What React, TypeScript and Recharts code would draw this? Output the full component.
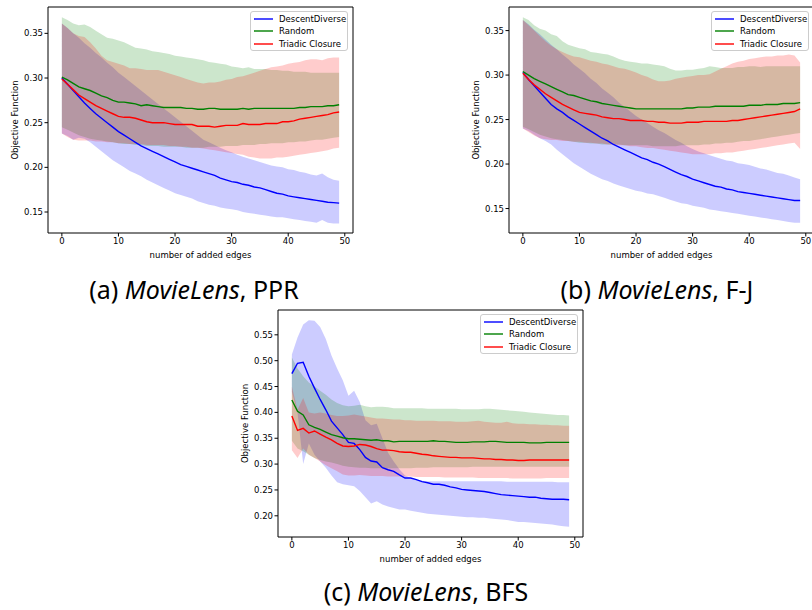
import {
  ComposedChart,
  XAxis,
  YAxis,
  Area,
  Line,
  Legend,
  Label,
  ReferenceArea,
} from "recharts";

const EDGES = [
  0, 1, 2, 3, 4, 5, 6, 7, 8, 9, 10, 11, 12, 13, 14, 15, 16, 17, 18, 19, 20, 21, 22, 23, 24,
  25, 26, 27, 28, 29, 30, 31, 32, 33, 34, 35, 36, 37, 38, 39, 40, 41, 42, 43, 44, 45, 46, 47,
  48, 49,
];
const X_TICKS = [0, 10, 20, 30, 40, 50];
const Y_TICKS_TOP = [0.15, 0.2, 0.25, 0.3, 0.35];
const Y_TICKS_BFS = [0.2, 0.25, 0.3, 0.35, 0.4, 0.45, 0.5, 0.55];
const SERIES_NAMES = ["DescentDiverse", "Random", "Triadic Closure"];

// (a) MovieLens, PPR
const A_DD_MEAN = [.300,.293,.286,.279,.272,.266,.260,.255,.250,.245,.240,.236,.232,.228,.224,.221,.218,.215,.212,.209,.206,.203,.201,.199,.197,.195,.193,.191,.188,.186,.184,.183,.181,.180,.178,.177,.175,.173,.171,.170,.168,.167,.166,.165,.164,.163,.162,.161,.1605,.160];
const A_DD_HI = [.361,.356,.350,.345,.339,.334,.328,.323,.317,.312,.306,.301,.296,.291,.286,.281,.276,.271,.266,.261,.256,.251,.246,.241,.236,.231,.228,.225,.222,.219,.217,.214,.212,.210,.208,.206,.204,.202,.201,.200,.198,.197,.195,.194,.192,.191,.193,.189,.186,.185];
const A_DD_LO = [.238,.235,.231,.233,.232,.228,.223,.218,.213,.208,.204,.200,.196,.193,.190,.186,.183,.180,.177,.174,.171,.169,.167,.165,.162,.160,.158,.157,.155,.154,.153,.152,.150,.149,.148,.147,.146,.145,.144,.144,.143,.142,.141,.140,.139,.138,.141,.138,.137,.137];
const A_RND_MEAN = [.301,.298,.294,.290,.288,.286,.283,.280,.278,.275,.273,.273,.272,.271,.269,.270,.269,.268,.267,.267,.267,.267,.266,.266,.265,.265,.266,.266,.265,.265,.265,.265,.266,.265,.266,.266,.266,.266,.266,.266,.266,.266,.267,.267,.268,.268,.268,.269,.269,.270];
const A_RND_HI = [.368,.365,.361,.359,.360,.357,.353,.349,.345,.344,.342,.340,.337,.334,.333,.332,.330,.329,.328,.327,.325,.324,.323,.322,.321,.320,.318,.317,.316,.315,.313,.312,.311,.312,.310,.310,.310,.309,.309,.308,.308,.307,.307,.307,.306,.306,.306,.306,.306,.306];
const A_RND_LO = [.245,.242,.239,.236,.234,.232,.231,.230,.229,.228,.227,.226,.226,.225,.225,.224,.224,.224,.223,.223,.223,.223,.222,.222,.222,.222,.223,.223,.223,.224,.224,.224,.225,.225,.225,.226,.226,.227,.227,.227,.228,.228,.229,.229,.230,.231,.231,.232,.233,.234];
const A_TC_MEAN = [.299,.293,.287,.281,.277,.273,.269,.266,.263,.260,.257,.256,.256,.255,.253,.251,.250,.250,.250,.249,.248,.248,.248,.248,.246,.246,.246,.245,.246,.247,.247,.247,.249,.248,.248,.248,.249,.249,.249,.251,.251,.252,.254,.255,.256,.257,.258,.259,.261,.262];
const A_TC_HI = [.361,.356,.350,.347,.346,.340,.333,.325,.320,.318,.316,.314,.311,.311,.310,.309,.309,.309,.307,.305,.303,.301,.299,.297,.295,.294,.295,.295,.296,.298,.299,.301,.302,.304,.306,.308,.310,.312,.313,.314,.316,.317,.318,.320,.321,.321,.320,.322,.323,.323];
const A_TC_LO = [.238,.234,.231,.230,.230,.230,.229,.229,.228,.228,.227,.227,.226,.226,.226,.225,.225,.225,.225,.224,.224,.223,.223,.222,.222,.221,.220,.219,.218,.217,.216,.215,.214,.212,.211,.210,.210,.210,.211,.211,.212,.213,.214,.215,.216,.217,.218,.219,.221,.222];

// (b) MovieLens, F-J
const B_DD_MEAN = [.303,.295,.288,.281,.274,.267,.262,.258,.253,.249,.245,.241,.237,.233,.229,.226,.222,.219,.216,.213,.210,.207,.205,.202,.200,.197,.194,.191,.188,.186,.183,.181,.179,.177,.175,.174,.172,.171,.169,.168,.167,.166,.165,.164,.163,.162,.161,.160,.159,.159];
const B_DD_HI = [.362,.357,.351,.346,.340,.334,.329,.323,.318,.312,.307,.302,.296,.291,.285,.280,.275,.269,.264,.259,.254,.250,.246,.242,.238,.235,.231,.227,.224,.220,.217,.214,.212,.210,.208,.206,.204,.203,.201,.200,.199,.197,.195,.194,.192,.190,.189,.187,.185,.183];
const B_DD_LO = [.240,.237,.233,.229,.226,.222,.216,.211,.206,.201,.197,.193,.189,.186,.183,.181,.178,.176,.174,.172,.170,.169,.167,.166,.164,.162,.160,.158,.156,.155,.153,.152,.151,.149,.148,.147,.146,.145,.144,.143,.142,.141,.140,.139,.138,.137,.136,.135,.134,.134];
const B_RND_MEAN = [.304,.300,.296,.293,.290,.287,.284,.281,.278,.277,.275,.273,.271,.270,.268,.267,.266,.265,.264,.263,.262,.262,.262,.262,.262,.262,.262,.262,.262,.263,.263,.264,.264,.264,.265,.265,.265,.265,.265,.265,.266,.266,.266,.267,.267,.267,.268,.268,.268,.269];
const B_RND_HI = [.365,.362,.356,.352,.350,.346,.344,.338,.334,.332,.330,.329,.326,.325,.324,.323,.321,.318,.316,.315,.314,.313,.313,.312,.311,.310,.307,.305,.305,.306,.306,.307,.308,.310,.309,.308,.308,.308,.309,.309,.310,.310,.309,.310,.310,.310,.310,.310,.310,.310];
const B_RND_LO = [.242,.239,.236,.233,.231,.229,.228,.227,.226,.225,.224,.224,.223,.223,.222,.222,.222,.222,.221,.221,.221,.221,.221,.220,.220,.220,.220,.220,.221,.221,.221,.221,.222,.222,.223,.223,.224,.224,.225,.226,.226,.227,.228,.229,.230,.231,.232,.233,.234,.235];
const B_TC_MEAN = [.302,.295,.289,.284,.279,.275,.271,.267,.264,.261,.258,.257,.256,.255,.253,.252,.251,.251,.250,.249,.249,.249,.248,.248,.247,.247,.246,.246,.246,.247,.247,.247,.248,.248,.248,.248,.248,.249,.249,.250,.251,.252,.253,.254,.255,.256,.257,.258,.259,.262];
const B_TC_HI = [.362,.356,.350,.344,.338,.333,.329,.326,.323,.321,.320,.318,.316,.315,.313,.312,.310,.308,.307,.305,.303,.300,.298,.295,.293,.293,.294,.296,.297,.298,.299,.300,.300,.301,.304,.307,.310,.313,.315,.316,.318,.319,.320,.321,.321,.322,.322,.323,.322,.314];
const B_TC_LO = [.240,.236,.232,.229,.228,.227,.227,.226,.226,.225,.225,.224,.224,.223,.223,.222,.222,.221,.221,.220,.220,.219,.218,.218,.217,.216,.215,.214,.213,.212,.211,.211,.211,.211,.212,.212,.213,.213,.214,.215,.216,.217,.218,.219,.220,.221,.222,.223,.224,.217];

// (c) MovieLens, BFS
const C_DD_MEAN = [.475,.495,.497,.470,.447,.425,.405,.383,.370,.357,.342,.340,.328,.313,.306,.304,.293,.289,.286,.279,.273,.273,.270,.266,.264,.261,.261,.259,.256,.254,.251,.250,.249,.248,.247,.245,.243,.241,.240,.239,.238,.237,.236,.236,.234,.233,.232,.232,.232,.231];
const C_DD_HI = [.512,.545,.570,.578,.577,.565,.542,.510,.485,.462,.432,.442,.420,.385,.375,.378,.350,.322,.305,.290,.278,.273,.270,.268,.267,.267,.267,.267,.267,.267,.267,.267,.267,.267,.267,.267,.267,.267,.266,.266,.266,.266,.266,.266,.266,.266,.266,.265,.265,.265];
const C_DD_LO = [.440,.400,.300,.340,.318,.305,.293,.278,.265,.261,.259,.257,.248,.236,.224,.228,.222,.218,.215,.212,.212,.210,.208,.206,.204,.203,.202,.201,.200,.199,.198,.197,.197,.196,.196,.195,.194,.193,.192,.190,.188,.188,.187,.186,.185,.184,.183,.181,.180,.179];
const C_RND_MEAN = [.424,.402,.395,.376,.371,.367,.362,.357,.354,.351,.349,.349,.348,.347,.346,.347,.345,.345,.343,.344,.344,.344,.344,.344,.344,.345,.344,.344,.343,.342,.342,.342,.343,.343,.343,.344,.344,.343,.342,.342,.342,.342,.341,.341,.341,.342,.342,.342,.342,.342];
const C_RND_HI = [.506,.485,.470,.458,.450,.442,.434,.425,.418,.414,.412,.413,.415,.412,.410,.411,.411,.410,.408,.408,.408,.408,.408,.408,.407,.407,.407,.407,.407,.407,.406,.406,.406,.406,.407,.407,.406,.405,.404,.403,.402,.401,.400,.399,.398,.397,.396,.395,.395,.394];
const C_RND_LO = [.345,.330,.325,.318,.312,.308,.305,.303,.300,.297,.295,.294,.293,.293,.292,.292,.292,.292,.292,.292,.292,.292,.293,.293,.293,.294,.294,.294,.294,.294,.294,.294,.295,.295,.295,.295,.295,.295,.295,.295,.295,.295,.295,.295,.295,.295,.295,.295,.295,.295];
const C_TC_MEAN = [.393,.365,.369,.360,.364,.358,.352,.347,.340,.335,.334,.335,.338,.337,.334,.330,.327,.327,.326,.324,.323,.323,.321,.319,.318,.316,.315,.314,.313,.313,.312,.312,.312,.311,.310,.310,.309,.309,.308,.308,.307,.307,.308,.308,.308,.308,.308,.308,.308,.308];
const C_TC_HI = [.450,.405,.428,.400,.398,.400,.398,.395,.393,.393,.394,.396,.394,.392,.390,.388,.388,.387,.386,.386,.385,.385,.384,.384,.384,.384,.383,.383,.383,.382,.382,.382,.383,.384,.382,.381,.380,.380,.382,.379,.378,.378,.377,.377,.376,.376,.375,.375,.374,.374];
const C_TC_LO = [.327,.312,.330,.318,.312,.305,.298,.292,.286,.280,.278,.278,.279,.278,.277,.277,.277,.276,.276,.276,.276,.276,.275,.275,.275,.275,.275,.274,.274,.274,.274,.274,.274,.273,.273,.273,.273,.273,.273,.272,.272,.272,.272,.272,.272,.273,.273,.273,.273,.273];

const FONT = '"DejaVu Sans", sans-serif';
const X_DOMAIN: [number, number] = [-2.45, 51.45];
const COLORS = ["#0000ff", "#008000", "#ff0000"];

type Band = { mean: number[]; lo: number[]; hi: number[] };

function buildRows(series: Band[]) {
  return EDGES.map((x, i) => {
    const row: Record<string, number | number[]> = { x };
    series.forEach((s, k) => {
      row[`m${k}`] = s.mean[i];
      row[`b${k}`] = [s.lo[i], s.hi[i]];
    });
    return row;
  });
}

const DATA_A = buildRows([
  { mean: A_DD_MEAN, lo: A_DD_LO, hi: A_DD_HI },
  { mean: A_RND_MEAN, lo: A_RND_LO, hi: A_RND_HI },
  { mean: A_TC_MEAN, lo: A_TC_LO, hi: A_TC_HI },
]);
const DATA_B = buildRows([
  { mean: B_DD_MEAN, lo: B_DD_LO, hi: B_DD_HI },
  { mean: B_RND_MEAN, lo: B_RND_LO, hi: B_RND_HI },
  { mean: B_TC_MEAN, lo: B_TC_LO, hi: B_TC_HI },
]);
const DATA_C = buildRows([
  { mean: C_DD_MEAN, lo: C_DD_LO, hi: C_DD_HI },
  { mean: C_RND_MEAN, lo: C_RND_LO, hi: C_RND_HI },
  { mean: C_TC_MEAN, lo: C_TC_LO, hi: C_TC_HI },
]);

const renderLegend = (props: any) => {
  const items = (props.payload || []).filter((p: any) => p.type !== "none");
  return (
    <div
      style={{
        width: 98,
        height: 40,
        boxSizing: "border-box",
        border: "1px solid #cccccc",
        borderRadius: 3,
        background: "rgba(255,255,255,0.8)",
        fontFamily: FONT,
        fontSize: 8.5,
        color: "#000",
        paddingTop: 0.5,
      }}
    >
      {items.map((it: any) => (
        <div key={it.value} style={{ height: 12.5, display: "flex", alignItems: "center" }}>
          <svg width={25} height={6} style={{ marginLeft: 3, flex: "none" }}>
            <line x1={0} x2={19} y1={3} y2={3} stroke={it.color} strokeWidth={1.4} />
          </svg>
          <span style={{ whiteSpace: "nowrap" }}>{it.value}</span>
        </div>
      ))}
    </div>
  );
};

const xLabel = (props: any) => {
  const vb = props.viewBox;
  return (
    <text x={vb.x + vb.width / 2} y={vb.y + 25} textAnchor="middle" fontFamily={FONT} fontSize={8.5} fill="#000">
      number of added edges
    </text>
  );
};

const yLabel = (props: any) => {
  const vb = props.viewBox;
  const cx = 18;
  const cy = vb.y + vb.height / 2;
  return (
    <text x={cx} y={cy} transform={`rotate(-90, ${cx}, ${cy})`} textAnchor="middle" fontFamily={FONT} fontSize={8.5} fill="#000">
      Objective Function
    </text>
  );
};

function Panel({ data, yDomain, yTicks, height }: { data: any[]; yDomain: [number, number]; yTicks: number[]; height: number }) {
  const tick = { fill: "#000", fontSize: 8.5, fontFamily: FONT };
  return (
    <ComposedChart width={360} height={height} data={data} margin={{ top: 7, right: 7, bottom: 0, left: 0 }}>
      <XAxis
        dataKey="x"
        type="number"
        domain={X_DOMAIN}
        ticks={X_TICKS}
        allowDataOverflow
        interval={0}
        height={29}
        axisLine={false}
        stroke="#000"
        tickSize={3.5}
        tickMargin={1.5}
        tick={tick}
      >
        <Label content={xLabel} />
      </XAxis>
      <YAxis
        type="number"
        domain={yDomain}
        ticks={yTicks}
        allowDataOverflow
        interval={0}
        width={48}
        axisLine={false}
        stroke="#000"
        tickSize={3.5}
        tickMargin={1.5}
        tick={tick}
        tickFormatter={(v: number) => v.toFixed(2)}
      >
        <Label content={yLabel} />
      </YAxis>
      {[0, 1, 2].map((k) => (
        <Area
          key={`b${k}`}
          dataKey={`b${k}`}
          type="linear"
          stroke="none"
          fill={COLORS[k]}
          fillOpacity={0.2}
          legendType="none"
          isAnimationActive={false}
        />
      ))}
      {[0, 1, 2].map((k) => (
        <Line
          key={`m${k}`}
          dataKey={`m${k}`}
          name={SERIES_NAMES[k]}
          type="linear"
          stroke={COLORS[k]}
          strokeWidth={1.4}
          dot={false}
          activeDot={false}
          isAnimationActive={false}
        />
      ))}
      <ReferenceArea
        x1={X_DOMAIN[0]}
        x2={X_DOMAIN[1]}
        y1={yDomain[0]}
        y2={yDomain[1]}
        fill="none"
        fillOpacity={0}
        stroke="#000"
        strokeWidth={1}
        ifOverflow="visible"
      />
      <Legend
        layout="vertical"
        align="center"
        verticalAlign="middle"
        content={renderLegend}
        wrapperStyle={{ left: 250, top: 11, width: 98 }}
      />
    </ComposedChart>
  );
}

const captionStyle = {
  position: "absolute" as const,
  width: 300,
  textAlign: "center" as const,
  fontFamily: '"Noto Sans", sans-serif',
  fontSize: 25,
  lineHeight: "30px",
  color: "#000",
  whiteSpace: "nowrap" as const,
};

export default function App() {
  return (
    <div style={{ position: "absolute", left: 0, top: 0, width: 812, height: 610, overflow: "hidden", background: "#fff" }}>
      <div style={{ position: "absolute", left: 0, top: 0 }}>
        <Panel data={DATA_A} yDomain={[0.1265, 0.3795]} yTicks={Y_TICKS_TOP} height={262} />
      </div>
      <div style={{ position: "absolute", left: 461, top: 0 }}>
        <Panel data={DATA_B} yDomain={[0.1225, 0.3765]} yTicks={Y_TICKS_TOP} height={262} />
      </div>
      <div style={{ position: "absolute", left: 230, top: 303 }}>
        <Panel data={DATA_C} yDomain={[0.159, 0.598]} yTicks={Y_TICKS_BFS} height={263} />
      </div>
      <div style={{ ...captionStyle, left: 194 - 150, top: 274 }}>
        (a) <i>MovieLens</i>, PPR
      </div>
      <div style={{ ...captionStyle, left: 657 - 150, top: 274 }}>
        (b) <i>MovieLens</i>, F-J
      </div>
      <div style={{ ...captionStyle, left: 426 - 150, top: 576 }}>
        (c) <i>MovieLens</i>, BFS
      </div>
    </div>
  );
}
